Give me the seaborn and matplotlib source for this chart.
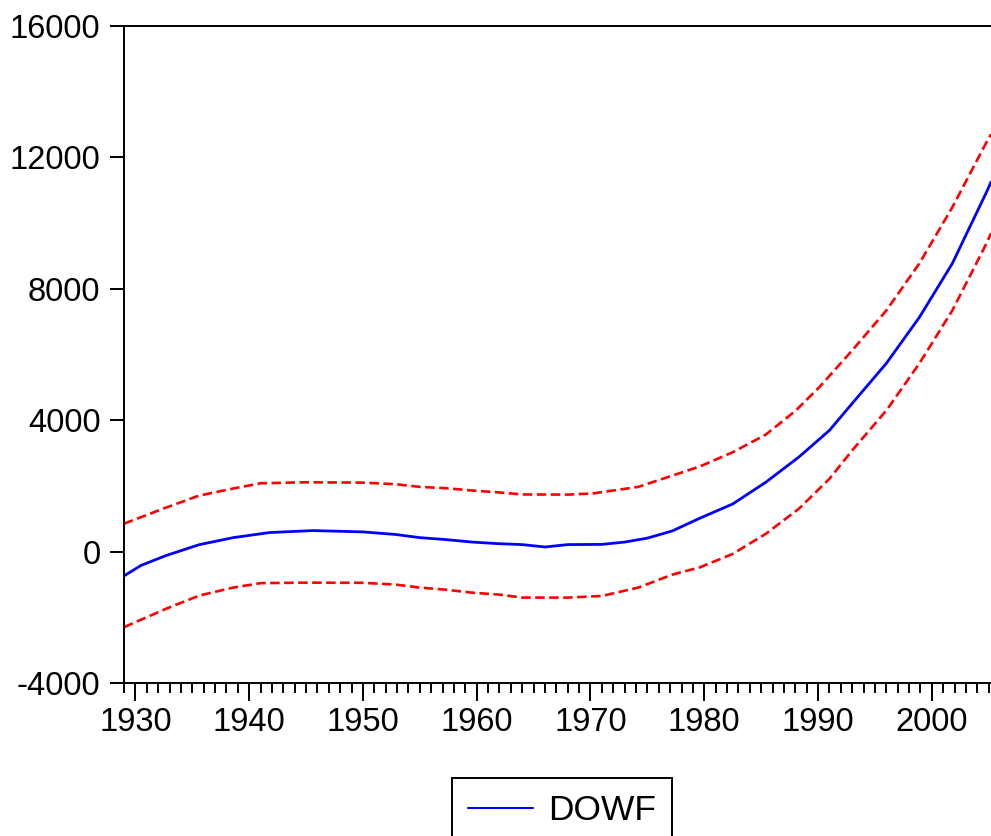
import matplotlib
matplotlib.use("Agg")
import matplotlib.pyplot as plt
from matplotlib.ticker import MultipleLocator, FixedLocator
import numpy as np
import pandas as pd
import seaborn as sns

# Forecast of DOWF with +/- 2 S.E. bands
fc_years = [1929.0, 1930.5, 1932.7, 1935.6, 1938.6, 1941.8, 1945.6, 1950.0, 1952.9,
            1955.0, 1957.3, 1959.6, 1962.0, 1964.0, 1966.0, 1968.0, 1971.0, 1973.0,
            1975.0, 1977.2, 1979.6, 1982.5, 1985.4, 1988.3, 1991.0, 1993.0, 1996.0,
            1998.9, 2001.8, 2004.8, 2005.2]
dowf = [-740, -420, -120, 210, 425, 580, 640, 600, 520,
        425, 365, 290, 240, 213, 140, 213, 220, 290,
        410, 630, 1015, 1450, 2110, 2875, 3690, 4510, 5730,
        7130, 8770, 10940, 11250]

up_years = [1929.0, 1932.7, 1935.6, 1938.6, 1941.0, 1945.0, 1950.0, 1952.9, 1955.0,
            1957.3, 1959.6, 1962.0, 1964.0, 1968.0, 1970.2, 1972.0, 1974.2, 1977.2,
            1979.6, 1982.5, 1985.4, 1988.0, 1990.1, 1993.0, 1996.0, 1998.9, 2001.8,
            2004.8, 2005.2]
upper = [850, 1340, 1705, 1920, 2080, 2110, 2100, 2050, 1970,
         1930, 1860, 1800, 1740, 1735, 1770, 1860, 1970, 2315,
         2590, 3025, 3560, 4280, 5000, 6125, 7340, 8770, 10480,
         12460, 12700]

lo_years = [1929.0, 1932.7, 1935.6, 1938.6, 1941.0, 1945.0, 1950.0, 1952.9, 1955.0,
            1957.3, 1959.6, 1962.0, 1964.0, 1968.0, 1971.0, 1974.2, 1977.2, 1979.6,
            1982.5, 1985.4, 1988.3, 1991.0, 1993.0, 1996.0, 1998.9, 2001.8, 2004.8,
            2005.2]
lower = [-2300, -1740, -1340, -1095, -960, -945, -950, -1005, -1095,
         -1160, -1250, -1310, -1400, -1400, -1350, -1095, -700, -480,
         -70, 540, 1300, 2215, 3080, 4295, 5725, 7340, 9380,
         9690]

y_ticks = [-4000, 0, 4000, 8000, 12000, 16000]
x_ticks = [1930, 1940, 1950, 1960, 1970, 1980, 1990, 2000]

sns.set_style("ticks")
plt.rcParams["font.family"] = ["Liberation Sans", "DejaVu Sans"]
plt.rcParams["text.color"] = "black"
plt.rcParams["xtick.color"] = "black"
plt.rcParams["ytick.color"] = "black"
plt.rcParams["xtick.labelcolor"] = "black"
plt.rcParams["ytick.labelcolor"] = "black"

fig = plt.figure(figsize=(9.91, 8.36), dpi=100)
ax = fig.add_axes([124 / 991, 1 - 683 / 836, 1 - 124 / 991, (683 - 26) / 836])

df_fc = pd.DataFrame({"year": fc_years, "value": dowf})
df_up = pd.DataFrame({"year": up_years, "value": upper})
df_lo = pd.DataFrame({"year": lo_years, "value": lower})

sns.lineplot(data=df_up, x="year", y="value", ax=ax, color="#ff0000",
             linewidth=1.9, estimator=None, sort=False)
sns.lineplot(data=df_lo, x="year", y="value", ax=ax, color="#ff0000",
             linewidth=1.9, estimator=None, sort=False)
sns.lineplot(data=df_fc, x="year", y="value", ax=ax, color="#0000ff",
             linewidth=2.0, estimator=None, sort=False, label="DOWF")

for ln in ax.lines[:2]:
    ln.set_linestyle((0, (3.6, 1.7)))

ax.set_xlim(1929.0, 2005.2)
ax.set_ylim(-4000, 16000)
ax.set_xlabel("")
ax.set_ylabel("")

ax.yaxis.set_major_locator(FixedLocator(y_ticks))
ax.set_yticklabels([str(v) for v in y_ticks])
ax.xaxis.set_major_locator(FixedLocator(x_ticks))
ax.set_xticklabels([str(v) for v in x_ticks])
ax.xaxis.set_minor_locator(MultipleLocator(1))

ax.tick_params(axis="y", which="major", direction="out", length=10, width=1.4,
               labelsize=23.5, pad=7, colors="black")
ax.tick_params(axis="x", which="major", direction="out", length=13, width=1.4,
               labelsize=23.5, pad=4, colors="black")
ax.tick_params(axis="x", which="minor", direction="out", length=7.5, width=1.4,
               colors="black")

for side in ["left", "top", "bottom"]:
    ax.spines[side].set_visible(True)
    ax.spines[side].set_linewidth(1.4)
    ax.spines[side].set_color("black")
ax.spines["right"].set_visible(False)

handles = [ax.lines[2]]
leg = ax.legend(handles=handles, labels=["DOWF"], loc="upper left",
                bbox_to_anchor=(452 / 991, 1 - 778 / 836),
                bbox_transform=fig.transFigure, fontsize=25.5, frameon=True,
                fancybox=False, handlelength=1.85, handletextpad=0.42,
                borderpad=0.45, borderaxespad=0)
leg.get_frame().set_edgecolor("black")
leg.get_frame().set_linewidth(1.4)
leg.get_frame().set_facecolor("white")
leg.get_frame().set_alpha(1)
for t in leg.get_texts():
    t.set_color("black")
leg.get_lines()[0].set_linewidth(1.5)

fig.savefig("out.png", dpi=100)
